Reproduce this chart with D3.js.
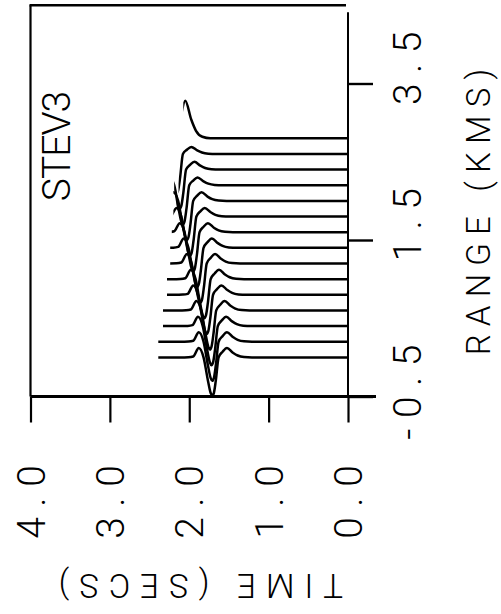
<!DOCTYPE html>
<html><head><meta charset="utf-8">
<script src="https://cdn.jsdelivr.net/npm/d3@7"></script>
<style>
html,body{margin:0;padding:0;background:#fff;}
svg{display:block;}
text{font-family:Roboto,"Open Sans",sans-serif;font-weight:300;fill:#000;}
</style>
</head><body><script>
// ---- data ----
const timeTicks = [4.0, 3.0, 2.0, 1.0, 0.0];
const timeTickLabels = ["4.0", "3.0", "2.0", "1.0", "0.0"];
const rangeTicks = [-0.5, 1.5, 3.5];
const rangeTickLabels = ["-0.5", "1.5", "3.5"];
const traceRanges = [0.0, 0.2, 0.4, 0.6, 0.8, 1.0, 1.2, 1.4, 1.6, 1.8, 2.0, 2.2, 2.4, 2.6, 2.8];
const traceStartTimes = [2.39, 2.39, 2.33, 2.33, 2.28, 2.28, 2.24, 2.24, 2.22, 2.20, 2.20, 2.19, 2.16, 2.135, 2.075];
const arrivalTimes = [1.71, 1.71, 1.72, 1.74, 1.78, 1.81, 1.86, 1.90, 1.95, 1.99, 2.03, 2.08, 2.12, 2.16, 2.235];
const troughAmps = [0.49, 0.50, 0.50, 0.50, 0.50, 0.50, 0.50, 0.50, 0.50, 0.50, 0.50, 0.50, 0.50, 0.50, 0.50];
const lobeAmps = [0.12, 0.12, 0.12, 0.12, 0.12, 0.12, 0.12, 0.12, 0.115, 0.11, 0.11, 0.10, 0.10, 0.09, 0.48];
const waveletLags = [0.40, 0.30, 0.24, 0.17, 0.11, 0.055, 0.02, 0, -0.02, -0.045, -0.08, -0.13, -0.185, -0.26, -0.32, -0.40, -0.50];
const waveletShape = [0, 0.02, 0.1, 1, 0, -0.6, -0.93, -1, -0.93, -0.6, 0, 0.6, 1, 0.5, 0.2, 0.04, 0];
const chartTitle = "STEV3";
const xTitle = "TIME (SECS)";
const yTitle = "RANGE (KMS)";

// ---- layout ----
const W = 501, H = 614;
const svg = d3.select("body").append("svg").attr("width", W).attr("height", H);
svg.append("rect").attr("width", W).attr("height", H).attr("fill", "#fff");

const x = d3.scaleLinear().domain([0, 4]).range([348, 30.5]);
const y = d3.scaleLinear().domain([-0.5, 3.5]).range([396.5, 83.5]);

// ---- traces ----
const defs = svg.append("defs");
const line = d3.line().x(p => x(p.t)).y(p => p.y).curve(d3.curveMonotoneX);
const gTr = svg.append("g");
traceRanges.forEach((r, i) => {
  const pts = [{t: 4.0, y: y(r)}];
  waveletLags.forEach((lag, k) => {
    const s = waveletShape[k];
    const amp = s >= 0 ? s * lobeAmps[i] : s * troughAmps[i];
    pts.push({t: arrivalTimes[i] + lag, y: y(r + amp)});
  });
  pts.push({t: 0, y: y(r)});
  const id = "clip" + i;
  defs.append("clipPath").attr("id", id).append("rect")
    .attr("x", x(traceStartTimes[i])).attr("width", x(0) - x(traceStartTimes[i]))
    .attr("y", 0).attr("height", H);
  gTr.append("path").attr("d", line(pts)).attr("clip-path", `url(#${id})`)
    .attr("fill", "none").attr("stroke", "#000").attr("stroke-width", 2.5)
    .attr("stroke-linejoin", "round");
});

// ---- frame & axes ----
const fr = svg.append("g").attr("stroke", "#000").attr("fill", "none");
fr.append("line").attr("x1", x(4) - 1).attr("x2", 346).attr("y1", y(4.5)).attr("y2", y(4.5)).attr("stroke-width", 2.4);
fr.append("line").attr("x1", x(4)).attr("x2", x(4)).attr("y1", y(4.5)).attr("y2", y(-0.5)).attr("stroke-width", 2.2);
fr.append("line").attr("x1", x(0)).attr("x2", x(0)).attr("y1", y(4.41)).attr("y2", y(-0.5)).attr("stroke-width", 2);
fr.append("line").attr("x1", x(4)).attr("x2", x(0) + 28).attr("y1", y(-0.5)).attr("y2", y(-0.5)).attr("stroke-width", 2.8);

const xAxis = d3.axisBottom(x).tickValues(timeTicks).tickSize(26).tickSizeOuter(0).tickFormat("");
const gx = svg.append("g").attr("transform", `translate(0,${y(-0.5)})`).call(xAxis);
gx.select(".domain").remove();
gx.selectAll(".tick line").attr("stroke", "#000").attr("stroke-width", 2.2);

const yAxis = d3.axisRight(y).tickValues(rangeTicks).tickSize(25).tickSizeOuter(0).tickFormat("");
const gy = svg.append("g").attr("transform", `translate(${x(0)},0)`).call(yAxis);
gy.select(".domain").remove();
gy.selectAll(".tick line").attr("stroke", "#000").attr("stroke-width", 2.4);

// ---- labels ----
const lsT = 10.5;
svg.append("g").selectAll("text").data(timeTicks).join("text")
  .attr("transform", d => `translate(${x(d) + 14},502) rotate(-90)`)
  .attr("text-anchor", "middle").attr("font-size", 39)
  .attr("letter-spacing", lsT).attr("dx", lsT / 2)
  .text((d, i) => timeTickLabels[i]);

svg.append("g").selectAll("text").data(rangeTicks).join("text")
  .attr("transform", d => `translate(421,${y(d) - 52}) rotate(-90)`)
  .attr("text-anchor", "end").attr("font-size", 39)
  .attr("letter-spacing", lsT).attr("dx", lsT)
  .text((d, i) => rangeTickLabels[i]);

svg.append("text").attr("transform", "translate(70,146) rotate(-90)")
  .attr("text-anchor", "middle").attr("font-size", 39)
  .attr("letter-spacing", -1).attr("dx", -0.5).text(chartTitle);

svg.append("text").attr("transform", "translate(490,212) rotate(-90)")
  .attr("text-anchor", "middle").attr("font-size", 33)
  .attr("letter-spacing", 8.2).attr("dx", 4.1).text(yTitle);

svg.append("text").attr("transform", "translate(200.8,573.5) rotate(180)")
  .attr("text-anchor", "middle").attr("font-size", 33)
  .attr("letter-spacing", 10).attr("dx", 5).text(xTitle);
</script></body></html>
